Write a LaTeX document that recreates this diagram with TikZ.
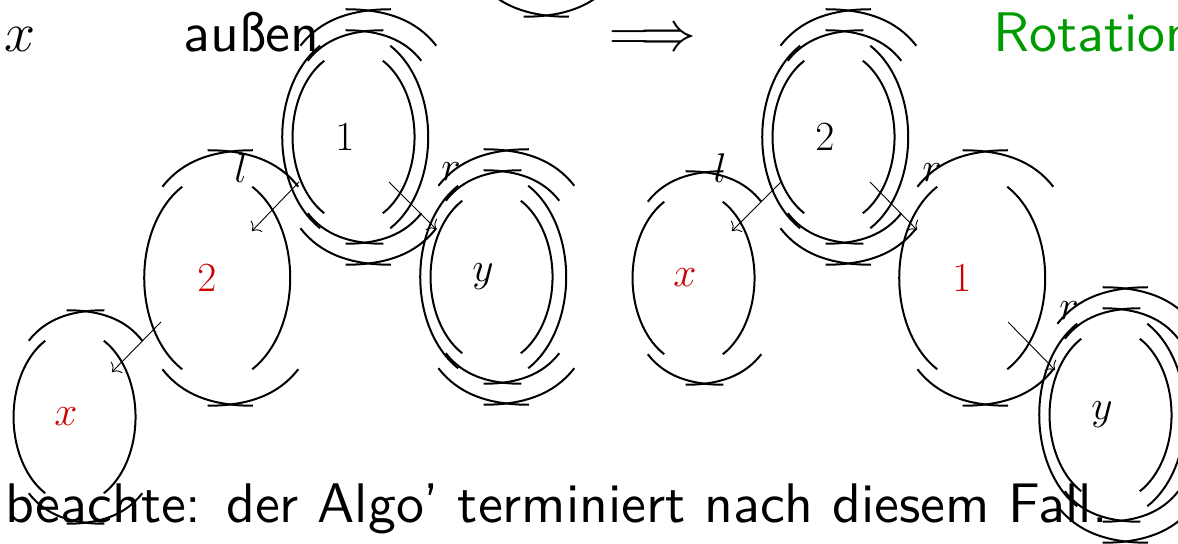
\RequirePackage{fix-cm}
\documentclass[tikz,border=0pt]{standalone}
\usepackage{fontspec}
\usetikzlibrary{arrows.meta}
\newfontfamily\sansten{lmsans10-regular}[Extension=.otf]
\definecolor{nodered}{RGB}{204,0,0}
\definecolor{rotgreen}{RGB}{0,155,0}
\newcommand\rbblob[3]{%
  \pgfmathsetmacro\rbC{#1+0.14*#3}%
  \pgfmathsetmacro\rbT{\rbC+0.18*#3}%
  \draw[blobline] plot[variable=\t,domain=118.7:241.3,samples=30,smooth] ({\rbC+#3*cos(\t)},{#2+1.425*#3*sin(\t)});
  \draw[blobline] plot[variable=\t,domain=-61.3:61.3,samples=30,smooth] ({\rbC+#3*cos(\t)},{#2+1.425*#3*sin(\t)});
  \draw[blobline] ({\rbT-0.93*#3},{#2-1.25*#3}) .. controls ({\rbT-0.66*#3},{#2-1.6*#3}) and ({\rbT-0.25*#3},{#2-1.75*#3}) .. ({\rbT+0.31*#3},{#2-1.75*#3});
  \draw[blobline] ({\rbT+0.93*#3},{#2-1.25*#3}) .. controls ({\rbT+0.66*#3},{#2-1.6*#3}) and ({\rbT+0.25*#3},{#2-1.75*#3}) .. ({\rbT-0.31*#3},{#2-1.75*#3});
  \draw[blobline] ({\rbT-0.93*#3},{#2+1.25*#3}) .. controls ({\rbT-0.66*#3},{#2+1.6*#3}) and ({\rbT-0.25*#3},{#2+1.75*#3}) .. ({\rbT+0.31*#3},{#2+1.75*#3});
  \draw[blobline] ({\rbT+0.93*#3},{#2+1.25*#3}) .. controls ({\rbT+0.66*#3},{#2+1.6*#3}) and ({\rbT+0.25*#3},{#2+1.75*#3}) .. ({\rbT-0.31*#3},{#2+1.75*#3});
}
\begin{document}
\begin{tikzpicture}[x=0.5pt,y=-0.5pt,
  blobline/.style={line width=1pt},
  edge/.style={line width=0.45pt,-{To[length=3.5pt,width=8pt]}},
  lab/.style={inner sep=0pt,font=\fontsize{20.74}{25}\selectfont},
  big/.style={inner sep=0pt,font=\fontsize{27.9}{33}\selectfont\sansten}]
\useasboundingbox (0,0) rectangle (1178,544);
\clip (0,0) rectangle (1178,544);
% top line
\node[big,anchor=base west] (tx) at (4,52) {$x$};
\node[big,anchor=base west] (taussen) at (183,52) {außen};
\node[big] (timpl) at (653,40) {$\Longrightarrow$};
\node[big,anchor=base west,text=rotgreen] (trot) at (993,52) {Rotation};
% bottom line
\node[big,anchor=base west] (bnote) at (5,523) {beachte: der Algo’ terminiert nach diesem Fall.};
% parent (cut off)
\rbblob{523}{-111}{73}
% left tree
\rbblob{345}{137}{61}\rbblob{345}{137}{73}
\node[lab] (lone) at (345,137) {$1$};
\rbblob{207}{278}{73}
\node[lab,text=nodered] (ltwo) at (207,278) {$2$};
\rbblob{66}{417}{61}
\node[lab,text=nodered] (lx) at (66,417) {$x$};
\rbblob{483}{277}{61}\rbblob{483}{277}{73}
\node[lab] (ly) at (483,277) {$y$};
% right tree
\rbblob{825}{137}{61}\rbblob{825}{137}{73}
\node[lab] (rtwo) at (825,137) {$2$};
\rbblob{685}{278}{61}
\node[lab,text=nodered] (rx) at (685,278) {$x$};
\rbblob{962}{278}{73}
\node[lab,text=nodered] (rone) at (962,278) {$1$};
\rbblob{1102}{415}{61}\rbblob{1102}{415}{73}
\node[lab] (ry) at (1102,415) {$y$};
% edge ends
\coordinate (e1s) at (299,182); \coordinate (e1e) at (252,231);
\coordinate (e2s) at (389,182); \coordinate (e2e) at (436,229);
\coordinate (e3s) at (161,322); \coordinate (e3e) at (112,372);
\coordinate (e4s) at (781,182); \coordinate (e4e) at (732,231);
\coordinate (e5s) at (870,182); \coordinate (e5e) at (917,230);
\coordinate (e6s) at (1008,322); \coordinate (e6e) at (1055,370);
\draw[edge] (e1s) -- (e1e);
\draw[edge] (e2s) -- (e2e);
\draw[edge] (e3s) -- (e3e);
\draw[edge] (e4s) -- (e4e);
\draw[edge] (e5s) -- (e5e);
\draw[edge] (e6s) -- (e6e);
\node[lab] (el1) at (241,168) {$l$};
\node[lab] (el2) at (451,172) {$r$};
\node[lab] (el4) at (720,168) {$l$};
\node[lab] (el5) at (932,173) {$r$};
\node[lab] (el6) at (1069,311) {$r$};
\end{tikzpicture}
\end{document}
